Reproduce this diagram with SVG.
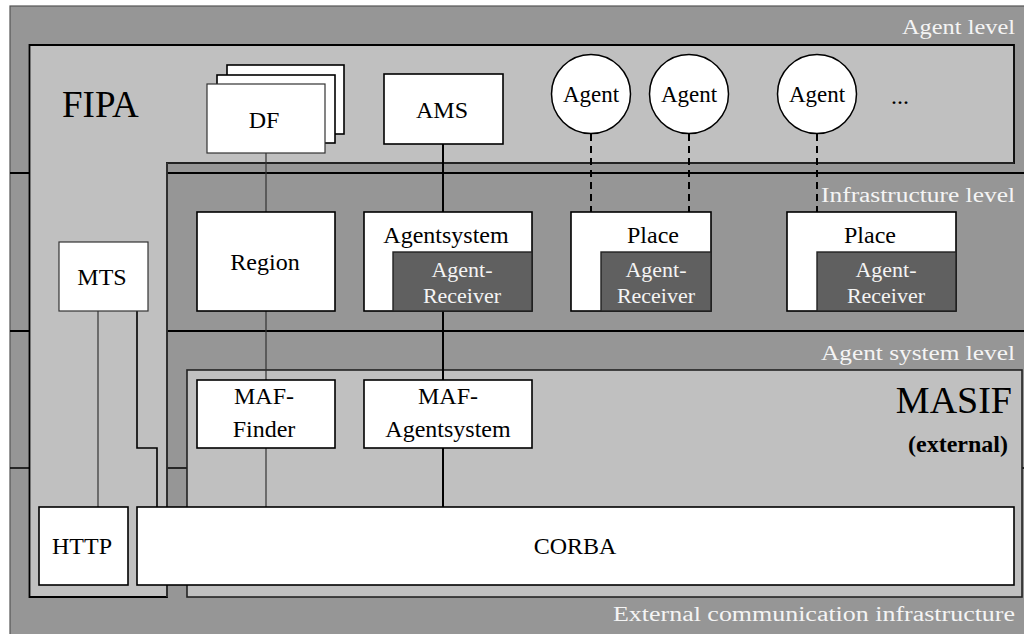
<svg xmlns="http://www.w3.org/2000/svg" width="1024" height="634" viewBox="0 0 1024 634" font-family="'Liberation Serif', 'DejaVu Serif', serif">
<style>
text{font-family:"Liberation Serif","DejaVu Serif",serif;}
.lvl{font-family:"Liberation Serif","DejaVu Serif",serif;fill:#f4f4f4;font-size:20px;text-anchor:end;}
.nt{font-family:"Liberation Serif","DejaVu Serif",serif;fill:#000;font-size:24px;text-anchor:middle;}
.ag{font-family:"Liberation Serif","DejaVu Serif",serif;fill:#000;font-size:23px;text-anchor:middle;}
.wt{font-family:"Liberation Serif","DejaVu Serif",serif;fill:#f4f4f4;font-size:22px;text-anchor:middle;}
.box{fill:#fff;stroke:#000;stroke-width:1.6;}
.thin{fill:#fff;stroke:#333;stroke-width:1.2;}
.recv{fill:#606060;stroke:#222;stroke-width:1.4;}
.sep{stroke:#000;stroke-width:2;fill:none;}
</style>
<rect x="0" y="0" width="1024" height="634" fill="#fff"/>
<g id="background">
<rect x="10" y="6" width="1020" height="640" fill="#969696" stroke="#555" stroke-width="1.2"/>
<line class="sep" x1="10" y1="173" x2="1024" y2="173"/>
<line class="sep" x1="10" y1="331" x2="1024" y2="331"/>
<line x1="10" y1="468" x2="1024" y2="468" stroke-width="1.5" stroke="#000"/>
</g>
<g id="fipa-panel">
<path d="M29.5 45 H1014 V163 H167 V597 H29.5 Z" fill="#c0c0c0" stroke="#000" stroke-width="1.8"/>
<path d="M1014 163 H167 V597" fill="none" stroke="#444" stroke-width="1.2"/>
<text x="62" y="117" font-size="37" fill="#000">FIPA</text>
</g>
<g id="masif-panel">
<rect x="187" y="370" width="835" height="227" fill="#c0c0c0" stroke="#222" stroke-width="1.6"/>
<text x="1012" y="413" font-size="38" fill="#000" text-anchor="end">MASIF</text>
<text x="1008" y="452" font-size="24" font-weight="bold" fill="#000" text-anchor="end">(external)</text>
</g>
<g id="level-labels">
<text class="lvl" x="1015" y="34" textLength="113" lengthAdjust="spacingAndGlyphs">Agent level</text>
<text class="lvl" x="1015" y="202" textLength="194" lengthAdjust="spacingAndGlyphs">Infrastructure level</text>
<text class="lvl" x="1015" y="360" textLength="194" lengthAdjust="spacingAndGlyphs">Agent system level</text>
<text class="lvl" x="1015" y="621" textLength="402" lengthAdjust="spacingAndGlyphs">External communication infrastructure</text>
</g>
<g id="connectors">
<line x1="266" y1="153" x2="266" y2="507" stroke="#333" stroke-width="1.2"/>
<line x1="443" y1="144" x2="443" y2="507" stroke="#000" stroke-width="2"/>
<line x1="98" y1="311" x2="98" y2="507" stroke="#333" stroke-width="1.2"/>
<polyline points="137,311 137,448 157,448 157,507" fill="none" stroke="#000" stroke-width="1.6"/>
<g stroke="#000" stroke-width="2" stroke-dasharray="7 5" fill="none">
<line x1="591" y1="134" x2="591" y2="212"/>
<line x1="689" y1="134" x2="689" y2="212"/>
<line x1="817" y1="134" x2="817" y2="212"/>
</g>
</g>
<g id="df">
<rect class="box" x="227" y="65" width="117" height="69" stroke-width="2"/>
<rect class="box" x="217" y="75" width="118" height="68" stroke-width="2"/>
<rect class="thin" x="207" y="84" width="118" height="69"/>
<text class="nt" x="264" y="128">DF</text>
</g>
<g id="ams">
<rect class="box" x="384" y="74" width="119" height="70"/>
<text class="nt" x="442" y="118">AMS</text>
</g>
<g id="agent1">
<circle cx="591" cy="94" r="39.5" fill="#fff" stroke="#000" stroke-width="1.5"/>
<text class="ag" x="591" y="102">Agent</text>
</g>
<g id="agent2">
<circle cx="689" cy="94" r="39.5" fill="#fff" stroke="#000" stroke-width="1.5"/>
<text class="ag" x="689" y="102">Agent</text>
</g>
<g id="agent3">
<circle cx="817" cy="94" r="39.5" fill="#fff" stroke="#000" stroke-width="1.5"/>
<text class="ag" x="817" y="102">Agent</text>
</g>
<g id="ellipsis">
<text class="nt" x="900" y="104">...</text>
</g>
<g id="mts">
<rect class="thin" x="59" y="242" width="89" height="69"/>
<text class="nt" x="102" y="285">MTS</text>
</g>
<g id="region">
<rect class="box" x="197" y="212" width="138" height="99"/>
<text class="nt" x="265" y="270">Region</text>
</g>
<g id="agentsystem">
<rect class="box" x="364" y="212" width="168" height="99"/>
<rect class="recv" x="393" y="252" width="139" height="59"/>
<text class="nt" x="446" y="243">Agentsystem</text>
<text class="wt" x="462" y="277">Agent-</text>
<text class="wt" x="462" y="303">Receiver</text>
</g>
<g id="place1">
<rect class="box" x="571" y="212" width="140" height="99"/>
<rect class="recv" x="601" y="252" width="110" height="59"/>
<text class="nt" x="653" y="243">Place</text>
<text class="wt" x="656" y="277">Agent-</text>
<text class="wt" x="656" y="303">Receiver</text>
</g>
<g id="place2">
<rect class="box" x="787" y="212" width="169" height="99"/>
<rect class="recv" x="817" y="252" width="139" height="59"/>
<text class="nt" x="870" y="243">Place</text>
<text class="wt" x="886" y="277">Agent-</text>
<text class="wt" x="886" y="303">Receiver</text>
</g>
<g id="maf-finder">
<rect class="box" x="197" y="380" width="138" height="68"/>
<text class="nt" x="264" y="404">MAF-</text>
<text class="nt" x="264" y="437">Finder</text>
</g>
<g id="maf-agentsystem">
<rect class="box" x="364" y="380" width="168" height="68"/>
<text class="nt" x="448" y="404">MAF-</text>
<text class="nt" x="448" y="437">Agentsystem</text>
</g>
<g id="http">
<rect class="box" x="39" y="507" width="89" height="78"/>
<text class="nt" x="82" y="554">HTTP</text>
</g>
<g id="corba">
<rect class="box" x="137" y="507" width="877" height="78"/>
<text class="nt" x="575" y="554">CORBA</text>
</g>
</svg>
